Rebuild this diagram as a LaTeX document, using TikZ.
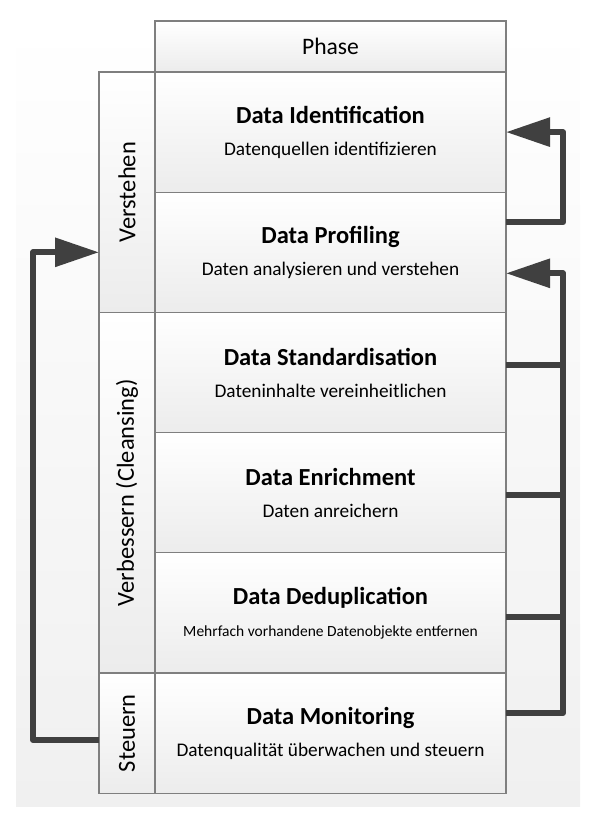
\documentclass[tikz,border=0pt]{standalone}
\usepackage{fontspec}
\setmainfont{Carlito}
\usetikzlibrary{arrows.meta,positioning}
\definecolor{flowgray}{HTML}{404040}
\definecolor{boxline}{HTML}{7F7F7F}
\definecolor{rowgray}{HTML}{ECECEC}
\definecolor{bggray}{HTML}{F0F0F0}
\newcommand{\titlefont}{\fontsize{24.5}{32}\selectfont\bfseries}

\begin{document}
\begin{tikzpicture}[x=1pt, y=-1pt,
  every node/.style={inner sep=0pt, outer sep=0pt},
  >={Triangle[length=44pt,width=28pt]},
  rowbox/.style={draw=boxline, line width=1.2pt, minimum width=351pt,
    minimum height=120.2pt, top color=white, bottom color=rowgray,
    align=center, font=\fontsize{19.3}{32}\selectfont},
  phasecol/.style={draw=boxline, line width=1.2pt, minimum height=56pt,
    rotate=90, top color=white, bottom color=rowgray,
    font=\fontsize{24.5}{28}\selectfont},
  flow/.style={draw=flowgray, line width=6pt, line join=round}]
\useasboundingbox (0,0) rectangle (595,814);
% background
\fill[top color=white, bottom color=bggray] (16,22) rectangle (580,806);
% phases
\node[draw=boxline, line width=1.2pt, minimum width=351pt, minimum height=51pt,
  top color=white, bottom color=rowgray, font=\fontsize{23.6}{28}\selectfont]
  (phase) at (330.5,46.5) {Phase};
\node[rowbox, below=0pt of phase] (ident)
  {{\titlefont Data Identification}\\Datenquellen identifizieren};
\node[rowbox, below=0pt of ident] (prof)
  {{\titlefont Data Profiling}\\Daten analysieren und verstehen};
\node[rowbox, below=0pt of prof] (std)
  {{\titlefont Data Standardisation}\\Dateninhalte vereinheitlichen};
\node[rowbox, below=0pt of std] (enr)
  {{\titlefont Data Enrichment}\\Daten anreichern};
\node[rowbox, below=0pt of enr] (dedup)
  {{\titlefont Data Deduplication}\\{\fontsize{15.5}{32}\selectfont Mehrfach vorhandene Datenobjekte entfernen}};
\node[rowbox, below=0pt of dedup] (mon)
  {{\titlefont Data Monitoring}\\Datenqualität überwachen und steuern};
% stages
\node[phasecol, minimum width=240.4pt] (verst) at ([xshift=-28pt]ident.south west) {Verstehen};
\node[phasecol, minimum width=360.6pt] (verb) at ([xshift=-28pt]enr.west) {Verbessern (Cleansing)};
\node[phasecol, minimum width=120.2pt] (steu) at ([xshift=-28pt]mon.west) {Steuern};
% loops
\draw[flow,->] ([yshift=30pt]prof.east) -- ++(57,0) |- (ident.east);
\draw[flow,->] ([yshift=20pt]mon.east) -- ++(57,0) |- ([yshift=-21pt]prof.east);
\foreach \r/\d in {std/8pt, enr/-2pt, dedup/-4pt}
  \draw[flow] ([yshift=\d]\r.east) -- ++(57,0);
\draw[flow,->] ([yshift=-7pt]steu.north) -- ++(-66,0) |- (verst.north |- prof.east);
\end{tikzpicture}
\end{document}
